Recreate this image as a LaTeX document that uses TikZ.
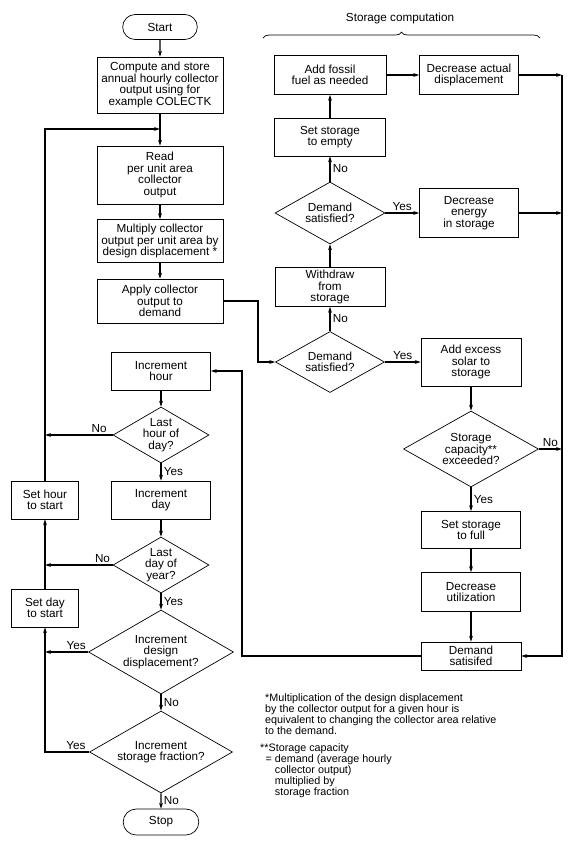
\documentclass[tikz,border=0pt]{standalone}
\usepackage{fontspec}
\setmainfont{Liberation Sans}
\usetikzlibrary{shapes.geometric,shapes.misc,arrows.meta,decorations.pathreplacing}

\begin{document}
\begin{tikzpicture}[x=0.3mm,y=-0.3mm,
  box/.style={draw,line width=.6pt,align=center,inner sep=1pt,font=\fontsize{10}{9.9}\selectfont},
  term/.style={box,rounded rectangle},
  dec/.style={box,diamond,aspect=1.7,inner sep=0pt},
  arr/.style={line width=.9pt,-{Stealth[length=5pt,width=3.2pt]}},
  lbl/.style={font=\fontsize{10}{9.9}\selectfont,inner sep=2pt},
  note/.style={align=left,inner sep=0pt,font=\fontsize{9.2}{9.5}\selectfont}]
\useasboundingbox (0,0) rectangle (577,849);

\node[term,minimum width=23.1mm,minimum height=7.5mm] (start) at (160,27) {Start};
\node[box,minimum width=37.8mm,minimum height=16.8mm] (compute) at (160,85) {Compute and store\\annual hourly collector\\output using for\\example COLECTK};
\node[box,minimum width=37.8mm,minimum height=17.4mm] (read) at (160,175) {Read\\per unit area\\collector\\output};
\node[box,minimum width=37.8mm,minimum height=12.9mm] (mult) at (160,241) {Multiply collector\\output per unit area by\\design displacement *};
\node[box,minimum width=37.8mm,minimum height=13.2mm] (apply) at (160,301) {Apply collector\\output to\\demand};
\node[box,minimum width=29.7mm,minimum height=11.4mm] (inchour) at (161,371) {Increment\\hour};
\node[dec,minimum width=28.8mm,minimum height=16.8mm] (lasthour) at (161,435) {Last\\hour of\\day?};
\node[box,minimum width=29.7mm,minimum height=11.4mm] (incday) at (161,500) {Increment\\day};
\node[dec,minimum width=28.8mm,minimum height=16.8mm] (lastday) at (161,565) {Last\\day of\\year?};
\node[dec,minimum width=43.5mm,minimum height=25.2mm] (incdisp) at (161,652) {Increment\\design\\displacement?};
\node[dec,minimum width=42.9mm,minimum height=24.6mm] (incfrac) at (161,752) {Increment\\storage fraction?};
\node[term,minimum width=23.4mm,minimum height=7.8mm] (stop) at (161,822) {Stop};
\node[box,minimum width=20.1mm,minimum height=11.4mm] (sethour) at (45,500) {Set hour\\to start};
\node[box,minimum width=20.1mm,minimum height=11.4mm] (setday) at (45,608) {Set day\\to start};

\node[box,minimum width=33.6mm,minimum height=11.7mm] (fossil) at (330,75) {Add fossil\\fuel as needed};
\node[box,minimum width=29.7mm,minimum height=11.7mm] (decact) at (469,75) {Decrease actual\\displacement};
\node[box,minimum width=33.3mm,minimum height=11.4mm] (setempty) at (330,137) {Set storage\\to empty};
\node[dec,minimum width=33mm,minimum height=18.6mm] (dsat2) at (330,213) {Demand\\satisfied?};
\node[box,minimum width=29.7mm,minimum height=14.7mm] (decen) at (469,213) {Decrease\\energy\\in storage};
\node[box,minimum width=33mm,minimum height=11.7mm] (withdraw) at (330,287) {Withdraw\\from\\storage};
\node[dec,minimum width=32.7mm,minimum height=18.3mm] (dsat1) at (330,362) {Demand\\satisfied?};
\node[box,minimum width=30mm,minimum height=14.4mm] (addexc) at (471,362) {Add excess\\solar to\\storage};
\node[dec,minimum width=40.5mm,minimum height=22.8mm] (stcap) at (471,449) {Storage\\capacity**\\exceeded?};
\node[box,minimum width=29.7mm,minimum height=11.1mm] (setfull) at (471,530) {Set storage\\to full};
\node[box,minimum width=29.7mm,minimum height=11.7mm] (decutil) at (471,592) {Decrease\\utilization};
\node[box,minimum width=30mm,minimum height=8.4mm] (dsatbox) at (471,656) {Demand\\satisifed};

\node[lbl] (sctitle) at (400,18) {Storage computation};
\draw[line width=.6pt,decorate,decoration={brace,amplitude=5pt}] (263,38) -- (540,38);

\coordinate (loopin) at (160,129);
\coordinate (jA) at (258,301);
\coordinate (jB) at (242,656);
\coordinate (rtop) at (562,75);
\coordinate (ren) at (562,213);
\coordinate (rcap) at (562,449);
\coordinate (lhour) at (45,435);
\coordinate (lday) at (45,565);
\coordinate (ldisp) at (45,652);

\foreach \a/\b in {start/compute,compute/read,read/mult,mult/apply,inchour/lasthour,incday/lastday,
  setday/sethour,setempty/fossil,withdraw/dsat2,fossil/decact,decact/rtop,decen/ren,
  addexc/stcap,setfull/decutil,decutil/dsatbox}
  \draw[arr] (\a) -- (\b);
\draw[arr] (lasthour) -- node[lbl,right] {Yes} (incday);
\draw[arr] (lastday) -- node[lbl,right] {Yes} (incdisp);
\draw[arr] (incdisp) -- node[lbl,right] {No} (incfrac);
\draw[arr] (incfrac) -- node[lbl,right] {No} (stop);
\draw[arr] (lasthour.west) -- node[lbl,above,pos=.2] {No} (lhour);
\draw[arr] (lastday.west) -- node[lbl,above,pos=.15] {No} (lday);
\draw[arr] (incdisp.west) -- node[lbl,above,pos=.28] {Yes} (ldisp);
\draw[arr] (incfrac.west) -| node[lbl,above,pos=.15] {Yes} (setday.south);
\draw[arr] (sethour.north) |- (loopin);
\draw[arr] (apply.east) -- (jA) |- (dsat1.west);
\draw[arr] (dsat1) -- node[lbl,right] {No} (withdraw);
\draw[arr] (dsat1) -- node[lbl,above] {Yes} (addexc);
\draw[arr] (dsat2) -- node[lbl,right] {No} (setempty);
\draw[arr] (dsat2) -- node[lbl,above] {Yes} (decen);
\draw[arr] (stcap) -- node[lbl,above] {No} (rcap);
\draw[arr] (stcap) -- node[lbl,right] {Yes} (setfull);
\draw[arr] (rtop) |- (dsatbox.east);
\draw[arr] (dsatbox.west) -- (jB) |- (inchour.east);

\node[note,anchor=north west] (fn1) at (265,693) {*Multiplication of the design displacement\\by the collector output for a given hour is\\equivalent to changing the collector area relative\\to the demand.};
\node[note,anchor=north west] (fn2) at (260,743) {**Storage capacity\\\hspace*{.5em}= demand (average hourly\\\hspace*{.5em}\phantom{= }collector output)\\\hspace*{.5em}\phantom{= }multiplied by\\\hspace*{.5em}\phantom{= }storage fraction};
\end{tikzpicture}
\end{document}
